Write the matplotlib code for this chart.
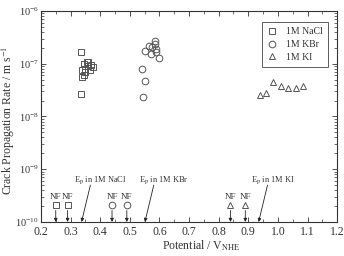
import matplotlib
matplotlib.use("Agg")
import matplotlib.pyplot as plt

plt.rcParams['font.family'] = ['Liberation Serif', 'DejaVu Serif']
plt.rcParams['mathtext.fontset'] = 'stix'

# measured crack propagation rates
nacl_x = [0.335, 0.335, 0.34, 0.345, 0.35, 0.355, 0.36, 0.365, 0.37, 0.375, 0.34, 0.345, 0.35, 0.36]
nacl_y = [1.7e-7, 2.7e-8, 7.5e-8, 1.0e-7, 8.0e-8, 1.1e-7, 1.1e-7, 7.5e-8, 9.5e-8, 8.5e-8, 5.5e-8, 6.0e-8, 7.0e-8, 9.0e-8]

kbr_x = [0.54, 0.55, 0.545, 0.55, 0.565, 0.57, 0.575, 0.585, 0.585, 0.59, 0.59, 0.60]
kbr_y = [7.8e-8, 4.8e-8, 2.3e-8, 1.75e-7, 2.2e-7, 1.55e-7, 2.1e-7, 2.7e-7, 2.4e-7, 1.7e-7, 1.9e-7, 1.3e-7]

ki_x = [0.94, 0.96, 0.985, 1.01, 1.035, 1.06, 1.085]
ki_y = [2.5e-8, 2.8e-8, 4.5e-8, 3.8e-8, 3.4e-8, 3.5e-8, 3.8e-8]

# no fracture points
nf_nacl = [0.25, 0.29]
nf_kbr = [0.44, 0.49]
nf_ki = [0.84, 0.89]
nf_y = 2.1e-10

# pitting potentials
ep_x = [0.337, 0.551, 0.935]
ep_labels = ["E$_{\\rm p}$ in 1M NaCl", "E$_{\\rm p}$ in 1M KBr", "E$_{\\rm p}$ in 1M KI"]
ep_text_x = [0.31, 0.53, 0.91]

fig = plt.figure(figsize=(3.44, 2.56), dpi=100)
ax = fig.add_axes([0.119, 0.133, 0.861, 0.824])

mk = dict(linestyle='none', mfc='none', mec='#555555', mew=0.7, ms=4.8)
ax.plot(nacl_x, nacl_y, marker='s', label='1M NaCl', **mk)
ax.plot(kbr_x, kbr_y, marker='o', label='1M KBr', **mk)
ax.plot(ki_x, ki_y, marker='^', label='1M KI', **mk)

for xs, m in [(nf_nacl, 's'), (nf_kbr, 'o'), (nf_ki, '^')]:
    for x in xs:
        ax.plot([x], [nf_y], marker=m, **mk)
        ax.text(x, nf_y * 1.2, "NF", ha='center', va='bottom', fontsize=6.5, color='#333333')
        ax.annotate('', xy=(x, 1.0e-10), xytext=(x, 1.65e-10),
                    arrowprops=dict(arrowstyle='-|>', lw=0.6, color='#222222',
                                    mutation_scale=5, shrinkA=0, shrinkB=0))

for x, lab, tx in zip(ep_x, ep_labels, ep_text_x):
    ax.text(tx, 6.2e-10, lab, ha='left', va='center', fontsize=6, color='#333333')
    ax.annotate('', xy=(x, 1.0e-10), xytext=(x + 0.03, 5.0e-10),
                arrowprops=dict(arrowstyle='-|>', lw=0.6, color='#222222',
                                mutation_scale=5, shrinkA=0, shrinkB=0))

ax.set_yscale('log')
ax.set_xlim(0.2, 1.2)
ax.set_ylim(1e-10, 1e-6)
ax.set_xticks([0.2, 0.3, 0.4, 0.5, 0.6, 0.7, 0.8, 0.9, 1.0, 1.1, 1.2])
ax.set_xticks([0.25 + 0.1 * i for i in range(10)], minor=True)
ax.tick_params(which='both', direction='in', top=True, right=True, colors='#333333')
ax.tick_params(axis='x', labelsize=8.5, pad=3)
ax.tick_params(axis='y', labelsize=7.5, pad=1.5)
ax.tick_params(which='major', length=3.5, width=0.6)
ax.tick_params(which='minor', length=2, width=0.5)
for s in ax.spines.values():
    s.set_linewidth(0.8)
    s.set_color('#333333')

ax.set_xlabel("Potential / V$_{\\rm NHE}$", fontsize=8.5, color='#333333')
ax.xaxis.set_label_coords(0.54, -0.08)
ax.set_ylabel("Crack Propagation Rate / m s$^{-1}$", fontsize=8.5, color='#333333')
ax.yaxis.set_label_coords(-0.08, 0.48)

leg = ax.legend(loc='upper right', fontsize=7, frameon=True, fancybox=False,
                edgecolor='#333333', handlelength=1.2, borderpad=0.5, labelspacing=0.4,
                bbox_to_anchor=(0.985, 0.97))
leg.get_frame().set_linewidth(0.7)
for t in leg.get_texts():
    t.set_color('#333333')

fig.savefig('out.png', dpi=100)
